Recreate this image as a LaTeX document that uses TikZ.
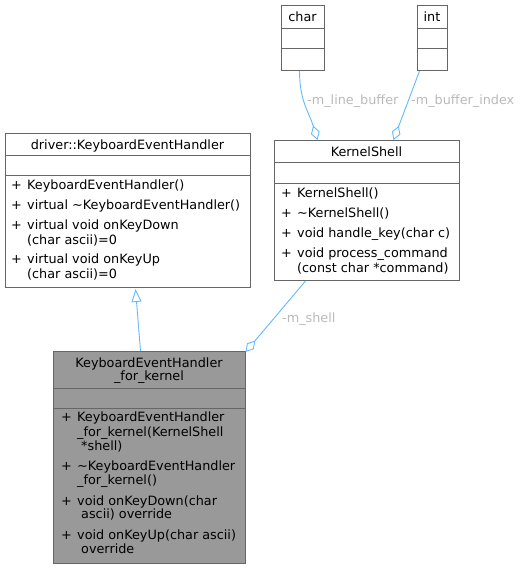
\documentclass[tikz,border=0pt]{standalone}
\usepackage{fontspec}
\setmainfont{DejaVu Sans}
\usetikzlibrary{arrows.meta}
\definecolor{boxborder}{HTML}{666666}
\definecolor{boxgray}{HTML}{999999}
\definecolor{edgeblue}{HTML}{63B8FF}
\definecolor{labelgray}{HTML}{BABABA}
\begin{document}
\begin{tikzpicture}[x=1pt,y=-1pt,
  umlbox/.style={draw=boxborder, line width=1pt, fill=white, inner sep=0pt, anchor=north west},
  graybox/.style={umlbox, fill=boxgray},
  txt/.style={inner sep=0pt, font=\fontsize{12.8}{14}\selectfont, anchor=mid west, yshift=-1.8pt},
  ttl/.style={inner sep=0pt, font=\fontsize{12.8}{14}\selectfont, anchor=mid, yshift=-1.8pt},
  lbl/.style={inner sep=0pt, font=\fontsize{12.8}{14}\selectfont, anchor=mid west, text=labelgray, yshift=-1.8pt},
  sep/.style={draw=boxborder, line width=1pt},
  edge/.style={draw=edgeblue, line width=0.9pt},
  agg/.style={edge, -{Diamond[open,length=15pt,width=9pt]}},
  inh/.style={edge, -{Triangle[open,length=13pt,width=10pt]}}
]
\useasboundingbox (0,0) rectangle (524,569);

% ---- char ----
\node[umlbox, minimum width=43pt, minimum height=65pt] (charbox) at (281,5) {};
\draw[sep] ([yshift=-24pt]charbox.north west) -- ([yshift=-24pt]charbox.north east);
\draw[sep] ([yshift=-44pt]charbox.north west) -- ([yshift=-44pt]charbox.north east);
\node[ttl] (chart) at (302.5,17) {char};

% ---- int ----
\node[umlbox, minimum width=30pt, minimum height=65pt] (intbox) at (417,5) {};
\draw[sep] ([yshift=-24pt]intbox.north west) -- ([yshift=-24pt]intbox.north east);
\draw[sep] ([yshift=-44pt]intbox.north west) -- ([yshift=-44pt]intbox.north east);
\node[ttl] (intt) at (432,17) {int};

% ---- driver::KeyboardEventHandler ----
\node[umlbox, minimum width=245pt, minimum height=154pt] (drv) at (5,133) {};
\draw[sep] ([yshift=-23pt]drv.north west) -- ([yshift=-23pt]drv.north east);
\draw[sep] ([yshift=-43pt]drv.north west) -- ([yshift=-43pt]drv.north east);
\node[ttl] (drvt) at (127.5,145) {driver::KeyboardEventHandler};
\node[txt] (dp1) at (11,185) {+};
\node[txt] (dm1) at (27,185) {KeyboardEventHandler()};
\node[txt] (dp2) at (11,205) {+};
\node[txt] (dm2) at (27,205) {virtual \textasciitilde KeyboardEventHandler()};
\node[txt] (dp3) at (11,225) {+};
\node[txt] (dm3) at (27,225) {virtual void onKeyDown};
\node[txt] (dm3b) at (27,240) {(char ascii)=0};
\node[txt] (dp4) at (11,259) {+};
\node[txt] (dm4) at (27,259) {virtual void onKeyUp};
\node[txt] (dm4b) at (27,274) {(char ascii)=0};

% ---- KernelShell ----
\node[umlbox, minimum width=185pt, minimum height=140pt] (ks) at (274,140) {};
\draw[sep] ([yshift=-23pt]ks.north west) -- ([yshift=-23pt]ks.north east);
\draw[sep] ([yshift=-44pt]ks.north west) -- ([yshift=-44pt]ks.north east);
\node[ttl] (kst) at (366.5,152) {KernelShell};
\node[txt] (kp1) at (281,193) {+};
\node[txt] (km1) at (297,193) {KernelShell()};
\node[txt] (kp2) at (281,213) {+};
\node[txt] (km2) at (297,213) {\textasciitilde KernelShell()};
\node[txt] (kp3) at (281,233) {+};
\node[txt] (km3) at (297,233) {void handle\_key(char c)};
\node[txt] (kp4) at (281,253) {+};
\node[txt] (km4) at (297,253) {void process\_command};
\node[txt] (km4b) at (297,268) {(const char *command)};

% ---- KeyboardEventHandler_for_kernel ----
\node[graybox, minimum width=192pt, minimum height=212pt] (kh) at (53,351) {};
\draw[sep] ([yshift=-37pt]kh.north west) -- ([yshift=-37pt]kh.north east);
\draw[sep] ([yshift=-57pt]kh.north west) -- ([yshift=-57pt]kh.north east);
\node[ttl] (kht1) at (149,363) {KeyboardEventHandler};
\node[ttl] (kht2) at (149,376) {\_for\_kernel};
\node[txt] (hp1) at (61,417) {+};
\node[txt] (hm1) at (77,417) {KeyboardEventHandler};
\node[txt] (hm1b) at (77,432) {\_for\_kernel(KernelShell};
\node[txt] (hm1c) at (81,446) {*shell)};
\node[txt] (hp2) at (61,466) {+};
\node[txt] (hm2) at (77,466) {\textasciitilde KeyboardEventHandler};
\node[txt] (hm2b) at (77,480) {\_for\_kernel()};
\node[txt] (hp3) at (61,501) {+};
\node[txt] (hm3) at (77,501) {void onKeyDown(char};
\node[txt] (hm3b) at (81,514) {ascii) override};
\node[txt] (hp4) at (61,535) {+};
\node[txt] (hm4) at (77,535) {void onKeyUp(char ascii)};
\node[txt] (hm4b) at (81,549) {override};

% ---- connectors ----
\draw[agg] ([xshift=-3.5pt]charbox.south) .. controls ([xshift=-3.5pt,yshift=-30pt]charbox.south) and ([xshift=-58pt,yshift=28pt]ks.north) .. ([xshift=-49.5pt]ks.north);
\draw[agg] ([xshift=-13pt]intbox.south) -- ([xshift=26.5pt]ks.north);
\draw[agg] ([xshift=-61.5pt]ks.south) -- ([xshift=-0.5pt,yshift=-1pt]kh.north east);
\draw[inh] ([xshift=-9pt]kh.north) -- ([xshift=7.5pt,yshift=-1pt]drv.south);

% ---- labels ----
\node[lbl] (l1) at (307,100) {-m\_line\_buffer};
\node[lbl] (l2) at (411,100) {-m\_buffer\_index};
\node[lbl] (l3) at (282,318) {-m\_shell};
\end{tikzpicture}
\end{document}
